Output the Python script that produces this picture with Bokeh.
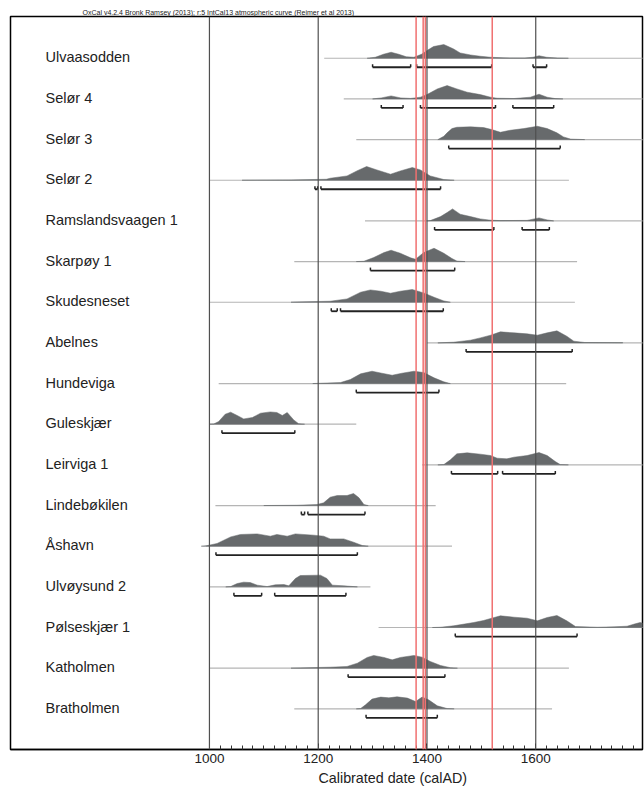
import numpy as np
from bokeh.plotting import figure
from bokeh.models import Range1d, Span, FixedTicker, Title
from bokeh.core.properties import value
from bokeh.embed import file_html
from bokeh.resources import INLINE

# ---------------- data ----------------
names = ["Ulvaasodden", "Selør 4", "Selør 3", "Selør 2", "Ramslandsvaagen 1",
         "Skarpøy 1", "Skudesneset", "Abelnes", "Hundeviga", "Guleskjær",
         "Leirviga 1", "Lindebøkilen", "Åshavn", "Ulvøysund 2", "Pølseskjær 1",
         "Katholmen", "Bratholmen"]

line_start = [1211, 1247, 1270, 1000, 1286, 1156, 1000, 1400, 1017, 1000,
              1391, 1011, 994, 1000, 1311, 1000, 1156]
line_end = [1800, 1800, 1800, 1661, 1800, 1676, 1672, 1800, 1656, 1270,
            1800, 1416, 1446, 1296, 1800, 1661, 1630]

years_list = [
    [1290, 1305, 1320, 1334, 1348, 1362, 1376, 1390, 1400, 1412, 1431, 1449, 1461, 1480, 1498, 1517, 1540, 1580, 1595, 1606, 1620, 1640, 1660],
    [1300, 1316, 1334, 1352, 1370, 1388, 1400, 1419, 1437, 1455, 1474, 1498, 1517, 1529, 1560, 1590, 1606, 1621, 1636, 1650],
    [1420, 1431, 1437, 1446, 1455, 1480, 1504, 1519, 1535, 1553, 1578, 1603, 1621, 1639, 1651, 1664, 1690],
    [1060, 1150, 1215, 1222, 1253, 1271, 1289, 1308, 1333, 1351, 1373, 1388, 1406, 1431, 1450],
    [1400, 1406, 1425, 1437, 1447, 1461, 1480, 1498, 1517, 1535, 1584, 1606, 1621, 1633],
    [1270, 1284, 1302, 1321, 1334, 1351, 1370, 1379, 1394, 1413, 1431, 1446, 1455, 1470],
    [1150, 1161, 1222, 1253, 1278, 1296, 1315, 1333, 1351, 1373, 1394, 1413, 1431, 1443],
    [1420, 1449, 1480, 1498, 1517, 1535, 1560, 1584, 1603, 1621, 1639, 1657, 1670, 1690, 1760],
    [1190, 1204, 1241, 1259, 1278, 1299, 1317, 1336, 1354, 1376, 1394, 1413, 1431, 1443],
    [1000, 1008, 1017, 1029, 1039, 1051, 1063, 1079, 1094, 1112, 1124, 1134, 1143, 1155, 1164, 1175],
    [1420, 1431, 1443, 1455, 1474, 1498, 1517, 1529, 1547, 1560, 1584, 1606, 1621, 1636, 1645, 1660],
    [1100, 1161, 1198, 1210, 1222, 1235, 1253, 1265, 1275, 1284, 1292],
    [985, 995, 1014, 1039, 1057, 1088, 1112, 1124, 1143, 1158, 1192, 1210, 1222, 1247, 1265, 1281, 1292],
    [1030, 1039, 1051, 1063, 1075, 1088, 1106, 1121, 1137, 1146, 1158, 1167, 1204, 1216, 1226, 1247, 1272],
    [1410, 1425, 1449, 1486, 1504, 1519, 1535, 1560, 1584, 1603, 1621, 1639, 1657, 1673, 1713, 1744, 1768, 1783, 1792, 1800],
    [1150, 1167, 1222, 1253, 1272, 1290, 1302, 1321, 1336, 1351, 1376, 1391, 1406, 1425, 1443, 1456],
    [1270, 1278, 1287, 1299, 1315, 1330, 1345, 1364, 1379, 1391, 1403, 1419, 1437, 1450],
]
# relative probability (arbitrary units, ~14 = tallest peak)
prob_list = [
    [0, 1, 4, 6, 4, 1.5, 1, 4, 7.7, 11.7, 13.7, 9.3, 5.3, 3.3, 2, 1, 0.4, 0.3, 1, 2.5, 1, 0.2, 0],
    [0, 1, 3, 1, 0.5, 1.7, 4.3, 10, 13.3, 10, 6.7, 4.3, 1.7, 0.7, 0.4, 1.7, 4.7, 1.7, 0.3, 0],
    [0, 3.3, 6.7, 11, 12.3, 12.7, 12, 10, 7.3, 9.3, 11, 13.3, 11, 6.7, 2.7, 0.5, 0],
    [0, 0.3, 1, 2, 4.3, 9.3, 13.7, 10.3, 6, 9.3, 12.7, 10.3, 4.3, 0.7, 0],
    [0, 0.3, 4.3, 8.3, 12, 6.7, 4.3, 2, 0.7, 0.3, 0.5, 3, 1, 0],
    [0, 0.3, 4, 9, 11.3, 8.3, 3.7, 2.3, 9, 13.3, 8.3, 3, 0.5, 0],
    [0, 0.3, 1, 3.3, 10, 12.3, 11, 9, 11, 12.7, 9.3, 5, 1.3, 0],
    [0, 0.7, 2.7, 5, 7.7, 11, 10, 9, 7.7, 10, 12, 6.7, 1.7, 0.4, 0.2],
    [0, 0.3, 1, 4, 9.7, 12.3, 10.3, 8.3, 10.3, 12.3, 11, 5.7, 1.7, 0],
    [0, 0.3, 2.7, 10, 12, 8.7, 5.3, 6.7, 11, 12.3, 11.7, 8.7, 11.7, 4.3, 0.5, 0],
    [0, 0.3, 5, 11, 12, 10.7, 9.3, 6.7, 6, 7.7, 9.3, 12.3, 9.3, 3.3, 0.3, 0],
    [0, 0.3, 1, 2.7, 8.3, 10, 10, 12, 7.7, 1, 0],
    [0, 0.5, 2.7, 9.3, 11.7, 12.3, 10, 11.7, 10, 12.3, 11, 10, 7.3, 7.3, 4, 0.7, 0],
    [0, 0.3, 3.3, 4.7, 4.3, 1.7, 0.3, 2, 2.3, 1, 8.3, 11.3, 11.7, 8.3, 1.7, 1, 0],
    [0, 0.3, 1.7, 5, 7, 9.3, 11.7, 10.3, 9.3, 6.7, 10, 12, 6.7, 1, 0.3, 0.7, 1.3, 3.7, 5, 4],
    [0, 0.3, 1, 1.7, 5, 10.7, 12.7, 10.7, 8.3, 10.7, 12.7, 11, 6.7, 2.7, 0.5, 0],
    [0, 0.3, 4, 9.7, 11.7, 11, 12, 10.7, 7.3, 11.7, 9, 3, 0.3, 0],
]

# 95.4% ranges (row index, from, to)
range_row = [0, 0, 0, 1, 1, 1, 2, 3, 3, 4, 4, 5, 6, 6, 7, 8, 9, 10, 10, 11, 11, 12, 13, 13, 14, 15, 16]
range_from = [1300, 1381, 1595, 1316, 1388, 1558, 1440, 1194, 1205, 1414, 1575, 1296, 1224, 1241,
              1472, 1270, 1023, 1445, 1539, 1169, 1181, 1012, 1045, 1120, 1452, 1255, 1288]
range_to = [1370, 1519, 1620, 1356, 1526, 1633, 1645, 1199, 1425, 1523, 1625, 1451, 1235, 1430,
            1667, 1422, 1157, 1530, 1636, 1175, 1286, 1272, 1096, 1251, 1676, 1433, 1419]

grid_years = [1000, 1200, 1400, 1600]
event_years = [1380, 1393, 1397, 1520]
major_ticks = [1000, 1200, 1400, 1600]
minor_ticks = list(range(1020, 1800, 20))

title_text = "OxCal v4.2.4 Bronk Ramsey (2013); r:5 IntCal13 atmospheric curve (Reimer et al 2013)"
x_title = "Calibrated date (calAD)"

# ---------------- figure ----------------
ROW_PX = 40.6
PROB_SCALE = 1.0 / ROW_PX
p = figure(width=644, height=788, output_backend="svg", toolbar_location=None,
           x_range=Range1d(634.2, 1796.3), y_range=Range1d(17.0, -1.027),
           y_axis_location=None, min_border_left=10, min_border_right=2,
           min_border_top=16, min_border_bottom=0)
p.grid.visible = False
p.outline_line_color = "black"
p.outline_line_width = 1.5
p.background_fill_color = "white"

p.title.text = title_text
p.title.text_font = "Liberation Sans"
p.title.text_font_size = "7px"
p.title.text_font_style = "normal"
p.title.text_color = "#222222"
p.title.align = "left"
p.title.offset = 72
p.title.standoff = 1

ax = p.xaxis[0]
ax.ticker = FixedTicker(ticks=major_ticks, minor_ticks=minor_ticks)
ax.axis_line_width = 1.5
ax.axis_line_color = "black"
ax.major_tick_in = 6
ax.major_tick_out = 0
ax.major_tick_line_color = "black"
ax.minor_tick_in = 4
ax.minor_tick_out = 0
ax.minor_tick_line_color = "#333333"
ax.major_label_text_font = "Liberation Sans"
ax.major_label_text_font_size = "13.5px"
ax.major_label_text_color = "#222222"
ax.major_label_standoff = 4

xt = Title(text=x_title, align="left", offset=308, text_font="Liberation Sans",
           text_font_size="14.3px", text_font_style="normal", text_color="#222222",
           standoff=5)
p.add_layout(xt, "below")

rows = np.arange(len(names))

# baselines
p.segment(x0=line_start, y0=rows, x1=line_end, y1=rows, line_color="#b5b5b5", line_width=1.2)

# distributions
xs, ys = [], []
for i, (yr, pr) in enumerate(zip(years_list, prob_list)):
    yr = list(yr)
    yv = [i - v * PROB_SCALE for v in pr]
    xs.append([yr[0]] + yr + [yr[-1]])
    ys.append([i] + yv + [i])
p.patches(xs=xs, ys=ys, fill_color="#676a6c", line_color="#676a6c", line_width=0.5)

# range brackets
BR_OFF = 9.0 / ROW_PX
BR_TICK = 3.0 / ROW_PX
rr = np.array(range_row, dtype=float)
by = rr + BR_OFF
p.segment(x0=range_from, y0=by, x1=range_to, y1=by, line_color="#222222", line_width=1.8)
p.segment(x0=range_from + range_to, y0=list(by) + list(by), x1=range_from + range_to,
          y1=list(by - BR_TICK) + list(by - BR_TICK), line_color="#222222", line_width=1.5)

# labels
LABEL_X = 634.2 + 35 / 0.5438
p.text(x=[LABEL_X] * len(names), y=rows - 1.0 / ROW_PX, text=names,
       text_font=value("Liberation Sans"), text_font_size="14.5px",
       text_baseline="middle", text_align="left", text_color="#222222")

# vertical reference lines
for yv in grid_years:
    p.add_layout(Span(location=yv, dimension="height", line_color="#505050", line_width=1.2))
for yv in event_years:
    p.add_layout(Span(location=yv, dimension="height", line_color="#f07070", line_width=1.5))

open("out.html", "w").write(file_html(p, INLINE))
